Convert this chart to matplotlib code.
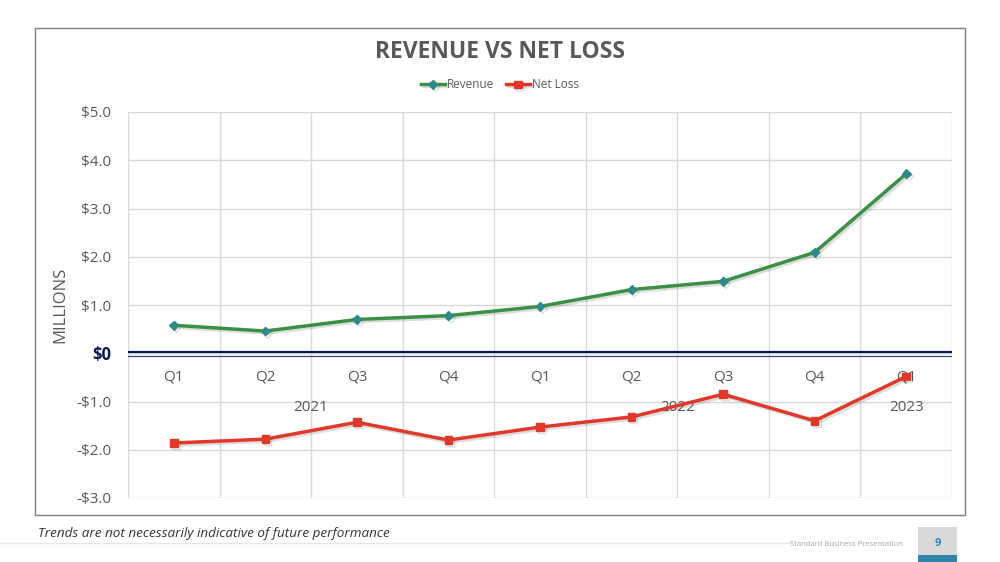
import numpy as np
import matplotlib.pyplot as plt
import matplotlib.patches as patches
import matplotlib.patheffects as pe

plt.rcParams['font.family'] = ['Open Sans', 'DejaVu Sans']

quarters = ['Q1', 'Q2', 'Q3', 'Q4', 'Q1', 'Q2', 'Q3', 'Q4', 'Q1']
years = ['2021', '2022', '2023']
year_pos = [1.5, 5.5, 8]
revenue = [0.58, 0.46, 0.70, 0.78, 0.97, 1.32, 1.49, 2.09, 3.72]
net_loss = [-1.86, -1.78, -1.43, -1.80, -1.53, -1.32, -0.85, -1.40, -0.48]
yticks = [5, 4, 3, 2, 1, 0, -1, -2, -3]

grey = '#595959'
navy = '#0d1a55'

fig = plt.figure(figsize=(10, 5.62), dpi=100)

# chart frame
fig.add_artist(patches.Rectangle((0.035, 1 - 515/562), 0.93, (515 - 28)/562,
                                 transform=fig.transFigure, fill=False,
                                 edgecolor='#7f7f7f', linewidth=1))

ax = fig.add_axes([0.128, 1 - 498/562, 0.824, (498 - 112)/562])
x = np.arange(len(quarters))

shadow = [pe.SimpleLineShadow(offset=(1.5, -1.5), alpha=0.18, shadow_color='#444444'), pe.Normal()]
ax.plot(x, revenue, color='#3c9045', linewidth=2.5, marker='D', markersize=4.5,
        markerfacecolor='#2f8a86', markeredgecolor='#2f8a86', label='Revenue',
        path_effects=shadow, zorder=4)
ax.plot(x, net_loss, color='#e0392b', linewidth=2.5, marker='s', markersize=5.5,
        markerfacecolor='#e0392b', markeredgecolor='#e0392b', label='Net Loss',
        path_effects=shadow, zorder=4)

ax.set_xlim(-0.5, len(quarters) - 0.5)
ax.set_ylim(-3, 5)
ax.set_yticks(yticks)
labels = []
for v in yticks:
    if v == 0:
        labels.append('$0')
    elif v < 0:
        labels.append('-${:.1f}'.format(-v))
    else:
        labels.append('${:.1f}'.format(v))
ax.set_yticklabels(labels)
for t, v in zip(ax.get_yticklabels(), yticks):
    t.set_color(grey)
    t.set_fontsize(11)
    if v == 0:
        t.set_color(navy)
        t.set_fontweight('bold')
        t.set_fontsize(12)
ax.tick_params(axis='y', length=0, pad=12)
ax.set_xticks(np.arange(-0.5, len(quarters), 1))
ax.set_xticklabels([])
ax.tick_params(axis='x', length=0)
ax.grid(True, color='#d9d9d9', linewidth=1)
ax.set_axisbelow(True)
for s in ax.spines.values():
    s.set_visible(False)

# double zero line
ax.axhline(0.03, color=navy, linewidth=1.6, zorder=3)
ax.axhline(-0.05, color='#34458a', linewidth=0.9, zorder=3)

for i, q in enumerate(quarters):
    ax.text(i, -0.5, q, ha='center', va='center', fontsize=11, color=grey)
for p, yr in zip(year_pos, years):
    ax.text(p, -1.12, yr, ha='center', va='center', fontsize=11, color=grey)

ax.set_ylabel('MILLIONS', fontsize=12, color=grey, labelpad=6)

fig.text(0.5, 1 - 52/562, 'REVENUE VS NET LOSS', ha='center', va='center',
         fontsize=16.5, fontweight='bold', color=grey)
ax.legend(loc='center', bbox_to_anchor=(0.5, 1 - 85/562), bbox_transform=fig.transFigure,
          ncol=2, frameon=False, fontsize=8.5, labelcolor=grey, handlelength=2,
          columnspacing=1.0, handletextpad=0.2)

# footer
fig.text(0.038, 1 - 534/562, 'Trends are not necessarily indicative of future performance',
         fontsize=9.7, style='italic', color='#333333', va='center')
fig.add_artist(plt.Line2D([0, 0.79], [1 - 543/562, 1 - 543/562], transform=fig.transFigure,
                          color='#e6e6e6', linewidth=1))
fig.text(0.903, 1 - 545/562, 'Standard Business Presentation', fontsize=5.5, color='#a6a6a6',
         ha='right', va='center')
fig.add_artist(patches.Rectangle((0.918, 0), 0.039, (562 - 527)/562,
                                 transform=fig.transFigure, facecolor='#d9d9d9', edgecolor='none'))
fig.add_artist(patches.Rectangle((0.918, 0), 0.039, 7/562,
                                 transform=fig.transFigure, facecolor='#2e86ab', edgecolor='none'))
fig.text(0.9375, 1 - 543/562, '9', fontsize=8, fontweight='bold', color='#2e86ab',
         ha='center', va='center')

fig.savefig('out.png', dpi=100)
